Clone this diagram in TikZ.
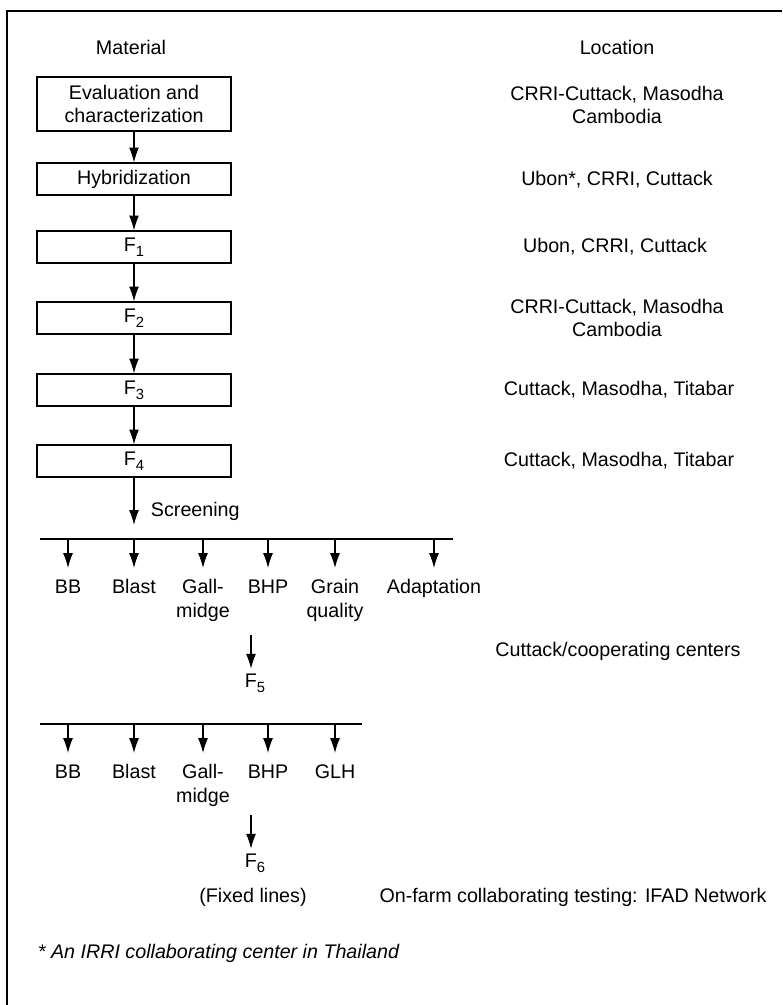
\documentclass[tikz,border=0pt]{standalone}
\usepackage{fontspec}
\setmainfont{Liberation Sans}
\usetikzlibrary{arrows.meta}
\newcommand{\fsub}[1]{\raisebox{-3.5pt}{\fontsize{10.5}{10.5}\selectfont #1}}
\begin{document}
\begin{tikzpicture}[x=0.025cm, y=-0.025cm,
  font=\fontsize{14}{17}\selectfont,
  >={Latex[length=10.5pt,width=7pt]},
  matbox/.style={draw, line width=0.8pt, minimum width=4.85cm, minimum height=0.8cm, align=center, inner sep=2pt},
  locnote/.style={align=center},
  trait/.style={anchor=north, align=center, inner xsep=0pt, inner ysep=8pt},
  flow/.style={->, line width=0.8pt}]
\useasboundingbox (0,0) rectangle (782,1005);
\draw[line width=0.8pt] (7,1005) -- (7,11) -- (782,11);
% column heads
\node (mat) at (131,47) {Material};
\node (loc) at (617,47) {Location};
% material boxes
\node[matbox, minimum height=1.35cm] (eval) at (134,104) {Evaluation and\\characterization};
\node[matbox] (hyb) at (134,179) {Hybridization};
\node[matbox] (f1) at (134,247) {F\fsub{1}};
\node[matbox] (f2) at (134,318) {F\fsub{2}};
\node[matbox] (f3) at (134,390) {F\fsub{3}};
\node[matbox] (f4) at (134,461) {F\fsub{4}};
\draw[flow] (eval) -- (hyb);
\draw[flow] (hyb) -- (f1);
\draw[flow] (f1) -- (f2);
\draw[flow] (f2) -- (f3);
\draw[flow] (f3) -- (f4);
% locations
\node[locnote] (loceval) at (617,105) {CRRI-Cuttack, Masodha\\Cambodia};
\node[locnote] (lochyb) at (617,180) {Ubon*, CRRI, Cuttack};
\node[locnote] (locf1) at (615,247) {Ubon, CRRI, Cuttack};
\node[locnote] (locf2) at (617,318) {CRRI-Cuttack, Masodha\\Cambodia};
\node[locnote] (locf3) at (619,390) {Cuttack, Masodha, Titabar};
\node[locnote] (locf4) at (619,461) {Cuttack, Masodha, Titabar};
% first screening
\coordinate (scr) at (134,525);
\draw[flow] (f4) -- (scr);
\node[anchor=west] (screen) at (146,511) {Screening};
\coordinate (barA) at (40,539);
\coordinate (barB) at (453,539);
\draw[line width=0.8pt] (barA) -- (barB);
\node[trait] (bbA) at (68,568) {BB};
\node[trait] (blastA) at (134,568) {Blast};
\node[trait] (gallA) at (203,568) {Gall-\\midge};
\node[trait] (bhpA) at (268,568) {BHP};
\node[trait] (grain) at (335,568) {Grain\\quality};
\node[trait] (adapt) at (434,568) {Adaptation};
\foreach \t in {bbA,blastA,gallA,bhpA,grain,adapt}
  \draw[flow] (\t |- barA) -- (\t);
\coordinate (f5top) at (251,635);
\node (f5) at (255,683) {F\fsub{5}};
\draw[flow] (f5top) -- (f5top |- f5.north);
\node[locnote] (locf5) at (618,651) {Cuttack/cooperating centers};
% second screening
\coordinate (barC) at (40,724);
\coordinate (barD) at (362,724);
\draw[line width=0.8pt] (barC) -- (barD);
\node[trait] (bbB) at (68,753) {BB};
\node[trait] (blastB) at (134,753) {Blast};
\node[trait] (gallB) at (203,753) {Gall-\\midge};
\node[trait] (bhpB) at (268,753) {BHP};
\node[trait] (glh) at (335,753) {GLH};
\foreach \t in {bbB,blastB,gallB,bhpB,glh}
  \draw[flow] (\t |- barC) -- (\t);
\coordinate (f6top) at (251,815);
\node (f6) at (255,863) {F\fsub{6}};
\draw[flow] (f6top) -- (f6top |- f6.north);
\node (fixed) at (253,897) {(Fixed lines)};
\node[locnote] (locf6) at (573,897) {On-farm collaborating testing: IFAD Network};
% footnote
\node[anchor=west, font=\fontsize{14}{17}\selectfont\itshape] (note) at (33,953) {* An IRRI collaborating center in Thailand};
\end{tikzpicture}
\end{document}
